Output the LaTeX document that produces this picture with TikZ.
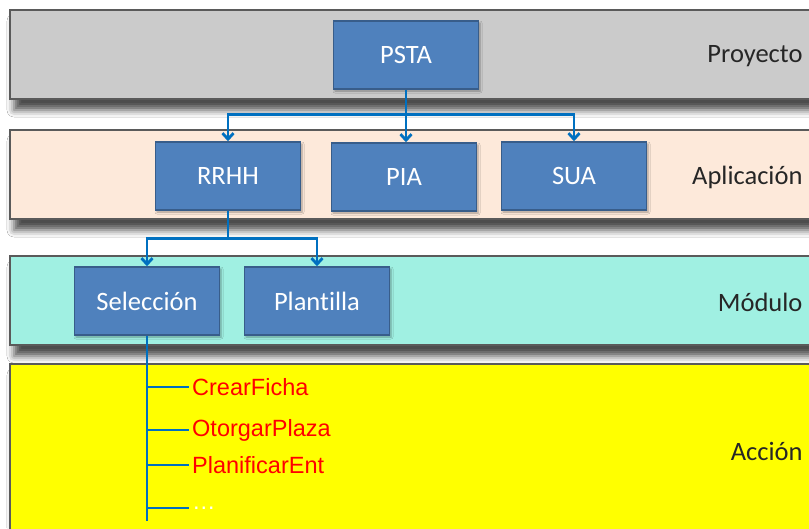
\documentclass[tikz,border=0pt]{standalone}
\usepackage{fontspec}
\setmainfont{Carlito}[Ligatures={NoCommon}]
\newfontfamily\actfont{Liberation Sans}
\usetikzlibrary{positioning, arrows.meta, calc, shadows.blur}
\definecolor{LayGray}{HTML}{CBCBCB}
\definecolor{LayPeach}{HTML}{FDE9DA}
\definecolor{LayAqua}{HTML}{A0F0E2}
\definecolor{LayYellow}{HTML}{FFFF00}
\definecolor{LayEdge}{HTML}{5A5A5A}
\definecolor{UnitBlue}{HTML}{4F81BD}
\definecolor{UnitEdge}{HTML}{385D8A}
\definecolor{LinkBlue}{HTML}{0070C0}

\begin{document}
\begin{tikzpicture}[x=1pt, y=-1pt,
    layer/.style={draw=LayEdge, line width=1.2pt,
                  blur shadow={shadow xshift=4pt, shadow yshift=-11pt,
                               shadow blur radius=7pt, shadow opacity=70}},
    unit/.style={draw=UnitEdge, line width=1.5pt, fill=UnitBlue, text=white,
                 minimum width=145pt, minimum height=68pt,
                 font=\fontsize{26.5}{30}\selectfont,
                 blur shadow={shadow xshift=1.5pt, shadow yshift=-2pt,
                              shadow blur radius=2pt, shadow opacity=35}},
    tag/.style={anchor=east, font=\fontsize{26.5}{30}\selectfont, text=black!85},
    act/.style={anchor=west, inner sep=4pt, text=red,
                font=\actfont\fontsize{23.5}{27}\selectfont},
    link/.style={draw=LinkBlue, line width=2.8pt},
    flow/.style={link, -{Straight Barb[length=6pt, width=11pt]}}]
  \useasboundingbox (0,0) rectangle (809,528);
  \fill[white] (0,0) rectangle (809,528);

  % layers
  \draw[layer, fill=LayGray]   (10,10)  rectangle (830,99);
  \draw[layer, fill=LayPeach]  (10,130) rectangle (830,219);
  \draw[layer, fill=LayAqua]   (10,256) rectangle (830,345);
  \draw[layer, fill=LayYellow] (10,364) rectangle (830,560);

  \node[tag] (proyecto)  at (806,56)  {Proyecto};
  \node[tag] (aplicacion) at (806,177) {Aplicación};
  \node[tag] (modulo)    at (806,302) {Módulo};
  \node[tag] (accion)    at (806,451) {Acción};

  % units
  \node[unit] (psta) at (406,55)  {PSTA};
  \node[unit] (rrhh) at (228,176) {RRHH};
  \node[unit] (pia)  at (404,177) {PIA};
  \node[unit] (sua)  at (574,176) {SUA};
  \node[unit] (sel)  at (147,301) {Selección};
  \node[unit] (plan) at (317,301) {Plantilla};

  % links
  \coordinate (j1) at ($(psta.south)+(0,25)$);
  \coordinate (j2) at ($(rrhh.south)+(0,28)$);
  \draw[link] (psta.south) -- (j1);
  \draw[flow] (j1) -| (rrhh.north);
  \draw[flow] (j1) -| (sua.north);
  \draw[flow] (j1) -- (j1 |- pia.north);
  \draw[link] (rrhh.south) -- (j2);
  \draw[flow] (j2) -| (sel.north);
  \draw[flow] (j2) -| (plan.north);

  % actions
  \node[act] (crear)  at (188,387) {CrearFicha};
  \node[act] (otorgar) at (188,430) {OtorgarPlaza};
  \node[act] (planif) at (188,465) {PlanificarEnt};
  \node[act, text=white] (mas) at (188,508) {\dots};
  \coordinate (tail) at ($(sel.south)+(0,185)$);
  \draw[link] (sel.south) -- (tail);
  \draw[link] (sel.south |- crear.west) -- ($(crear.west)+(1,0)$);
  \draw[link] (sel.south |- otorgar.west) -- ($(otorgar.west)+(1,0)$);
  \draw[link] (sel.south |- planif.west) -- ($(planif.west)+(1,0)$);
  \draw[link] (sel.south |- mas.west) -- ($(mas.west)+(1,0)$);
\end{tikzpicture}
\end{document}
